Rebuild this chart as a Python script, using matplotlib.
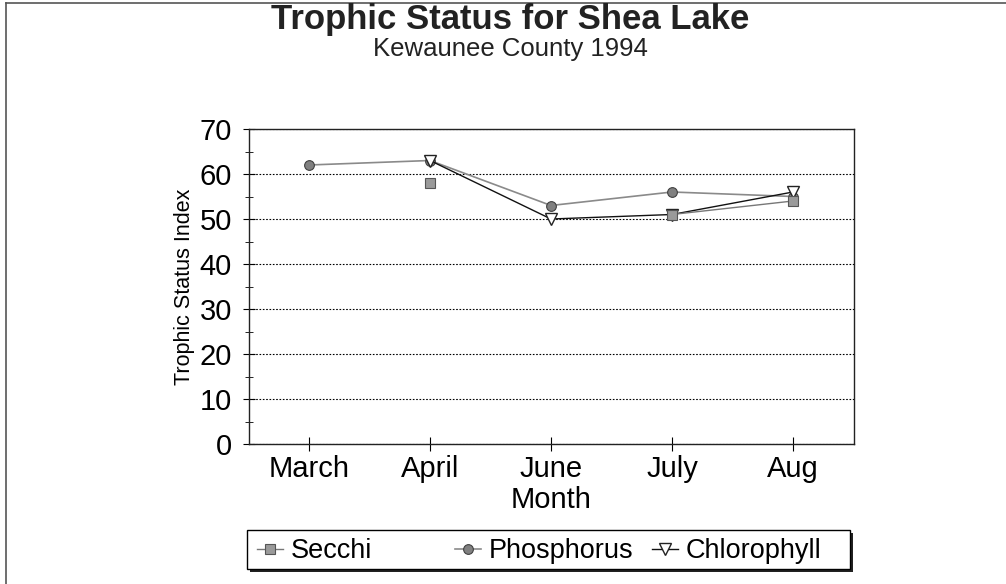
import numpy as np
import matplotlib
matplotlib.use("Agg")
import matplotlib.pyplot as plt
from matplotlib.ticker import MultipleLocator
from matplotlib.patches import Rectangle
from matplotlib.lines import Line2D

plt.rcParams['font.family'] = ['Liberation Sans', 'DejaVu Sans']

months = ["March", "April", "June", "July", "Aug"]
secchi = [np.nan, 58, np.nan, 51, 54]
phosphorus = [62, 63, 53, 56, 55]
chlorophyll = [np.nan, 63, 50, 51, 56]
series_names = ["Secchi", "Phosphorus", "Chlorophyll"]

W, H = 1006, 584
fig = plt.figure(figsize=(W / 100, H / 100), dpi=100)
ax = fig.add_axes([248.5 / W, 1 - 444 / H, 605 / W, 315 / H])

styles = [
    dict(color="#777777", lw=1.0, marker="s", ms=7, mfc="#9a9a9a", mec="#555555", mew=0.8),
    dict(color="#8a8a8a", lw=1.2, marker="o", ms=7, mfc="#808080", mec="#404040", mew=0.8),
    dict(color="#111111", lw=1.0, marker="v", ms=8, mfc="white", mec="#222222", mew=1.0),
]

x = np.arange(len(months))
ax.plot(x, phosphorus, zorder=3, **styles[1])
ax.plot(x, chlorophyll, zorder=4, **styles[2])
ax.plot(x, secchi, zorder=5, **styles[0])

ax.set_xlim(-0.5, len(months) - 0.5)
ax.set_ylim(0, 70)
ax.set_xticks(x)
ax.set_xticklabels(months, fontsize=21)
ax.yaxis.set_major_locator(MultipleLocator(10))
ax.yaxis.set_minor_locator(MultipleLocator(5))
ax.tick_params(axis='y', which='major', direction='inout', length=8, labelsize=21, pad=8)
ax.tick_params(axis='y', which='minor', direction='inout', length=6)
ax.tick_params(axis='x', which='major', direction='inout', length=10, pad=3)
ax.grid(axis='y', which='major', linestyle=(0, (1.5, 1.5)), color='black', lw=0.8)
for s in ax.spines.values():
    s.set_linewidth(1.0)
    s.set_color('#222222')

ax.set_ylabel("Trophic Status Index", fontsize=15.5, labelpad=3)
ax.set_xlabel("Month", fontsize=21, labelpad=2)

fig.text(510 / W, 1 - 29 / H, "Trophic Status for Shea Lake", ha='center', va='baseline',
         fontsize=25, fontweight='bold', color='#222222')
fig.text(510 / W, 1 - 56 / H, "Kewaunee County 1994", ha='center', va='baseline',
         fontsize=18.5, color='#222222')

# outer frame
fig.add_artist(Line2D([6 / W, 1.0], [1 - 3 / H, 1 - 3 / H], transform=fig.transFigure,
                      color='#555555', lw=1.2))
fig.add_artist(Line2D([6 / W, 6 / W], [0.0, 1 - 3 / H], transform=fig.transFigure,
                      color='#555555', lw=1.2))

# legend box with shadow
bx0, bx1, by0, by1 = 247, 850, 530, 569
fig.add_artist(Rectangle(((bx0 + 3) / W, 1 - (by1 + 3) / H), (bx1 - bx0) / W, (by1 - by0) / H,
                         transform=fig.transFigure, facecolor='#222222', edgecolor='none', zorder=1))
fig.add_artist(Rectangle((bx0 / W, 1 - by1 / H), (bx1 - bx0) / W, (by1 - by0) / H,
                         transform=fig.transFigure, facecolor='white', edgecolor='black',
                         lw=1.0, zorder=2))
entry_x = [257, 455, 652]
for i, name in enumerate(series_names):
    h = Line2D([], [], **styles[i])
    lg = fig.legend([h], [name], loc='center left',
                    bbox_to_anchor=(entry_x[i] / W, 1 - 551 / H),
                    fontsize=19.5, handlelength=0.95, handletextpad=0.3,
                    borderpad=0.0, borderaxespad=0.0, frameon=False)
    lg.set_zorder(3)

fig.savefig("out.png", dpi=100)
